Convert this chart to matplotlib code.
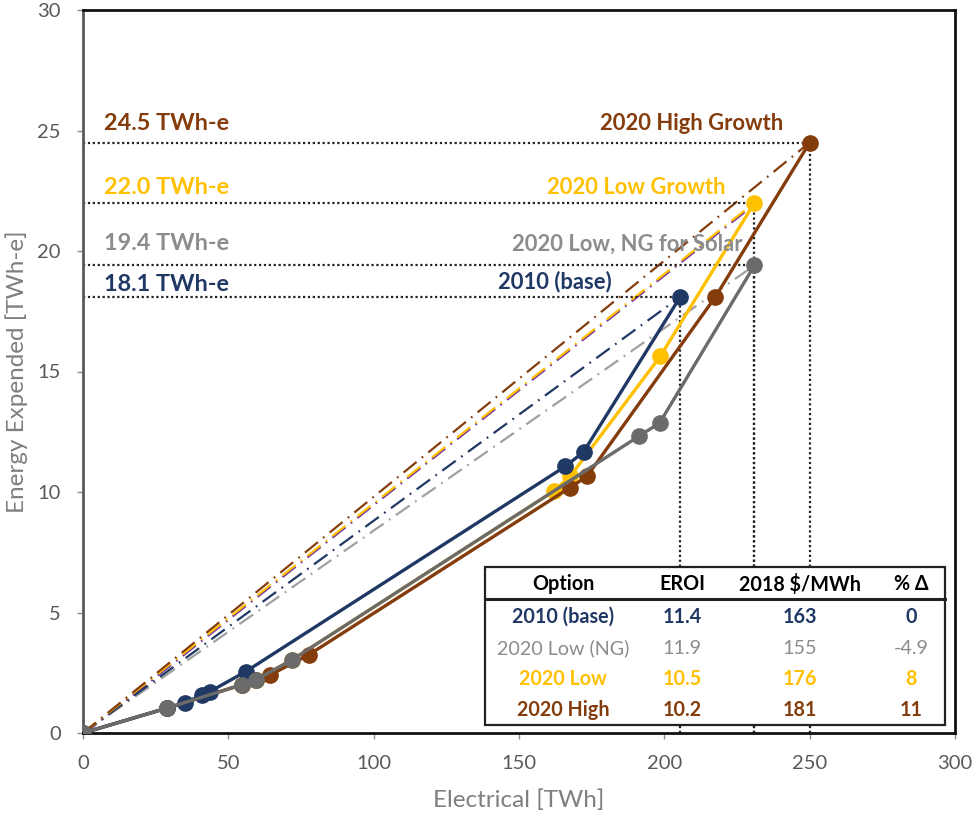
import matplotlib.pyplot as plt
import matplotlib.transforms as mtransforms
from matplotlib.patches import Rectangle
from matplotlib.lines import Line2D

plt.rcParams['font.family'] = ['Lato', 'DejaVu Sans']

# cumulative energy expended vs electricity generated, per scenario
base_x = [0, 28.8, 35.1, 40.9, 43.7, 56.0, 165.9, 172.2, 205.5]
base_y = [0, 1.03, 1.25, 1.58, 1.72, 2.55, 11.06, 11.66, 18.1]

ng_x = [0, 28.8, 54.6, 59.4, 71.8, 191.2, 198.4, 231.0]
ng_y = [0, 1.03, 2.0, 2.2, 3.03, 12.31, 12.87, 19.4]

low_x = [0, 28.8, 54.6, 59.4, 71.8, 161.9, 167.6, 198.6, 231.0]
low_y = [0, 1.03, 2.0, 2.2, 3.03, 10.03, 10.65, 15.63, 22.0]

high_x = [0, 28.8, 54.6, 59.4, 64.4, 77.6, 167.4, 173.4, 217.6, 250.0]
high_y = [0, 1.03, 2.0, 2.2, 2.41, 3.24, 10.17, 10.65, 18.1, 24.5]

# table of results
tbl_header = ['Option', 'EROI', '2018 $/MWh', '% Δ']
tbl_option = ['2010 (base)', '2020 Low (NG)', '2020 Low', '2020 High']
tbl_eroi = ['11.4', '11.9', '10.5', '10.2']
tbl_cost = ['163', '155', '176', '181']
tbl_delta = ['0', '-4.9', '8', '11']

NAVY = '#1F3864'
GRAY = '#6B6B6B'
GRAYTXT = '#8C8C8C'
GOLD = '#FFC000'
BROWN = '#843C0C'
PURPLE = '#7030A0'

W, H = 972, 817
fig = plt.figure(figsize=(W / 100, H / 100), dpi=100)
ax = fig.add_axes([83 / W, 1 - 733 / H, 872 / W, 723 / H])


def fpx(x, y):
    return x / W, 1 - y / H


# dash-dot straight lines from the origin to each end point
dd = (0, (7.5, 3, 0.8, 3))
shift = mtransforms.offset_copy(ax.transData, fig=fig, x=0, y=-1.6, units='dots')
ax.plot([0, low_x[-1]], [0, low_y[-1]], color=PURPLE, lw=1.6, ls=dd, transform=shift, zorder=2)
ax.plot([0, ng_x[-1]], [0, ng_y[-1]], color='#A0A0A0', lw=1.6, ls=dd, zorder=2)
ax.plot([0, base_x[-1]], [0, base_y[-1]], color=NAVY, lw=1.6, ls=dd, zorder=2)
ax.plot([0, low_x[-1]], [0, low_y[-1]], color=GOLD, lw=1.6, ls=dd, zorder=2)
ax.plot([0, high_x[-1]], [0, high_y[-1]], color=BROWN, lw=1.6, ls=dd, zorder=2)

# dotted guides to the end points
dot = (0, (1, 1.2))
for xs, ys in [(base_x, base_y), (ng_x, ng_y), (low_x, low_y), (high_x, high_y)]:
    ax.plot([0, xs[-1]], [ys[-1], ys[-1]], color='#222222', lw=1.6, ls=dot, zorder=2)
    ax.plot([xs[-1], xs[-1]], [0, ys[-1]], color='#222222', lw=1.6, ls=dot, zorder=2)

# scenario curves
for xs, ys, c in [(low_x, low_y, GOLD), (high_x, high_y, BROWN),
                  (base_x, base_y, NAVY), (ng_x, ng_y, GRAY)]:
    ax.plot(xs, ys, color=c, lw=2.4, marker='o', ms=11, mec=c, zorder=3)

ax.set_xlim(0, 300)
ax.set_ylim(0, 30)
ax.set_xticks(range(0, 301, 50))
ax.set_yticks(range(0, 31, 5))
ax.tick_params(colors='#8C8C8C', labelcolor='#595959', labelsize=14.5, length=4, width=1)
ax.tick_params(axis='x', pad=12)
ax.tick_params(axis='y', pad=12)
for s in ['top', 'right', 'bottom']:
    ax.spines[s].set_color('#111111')
    ax.spines[s].set_linewidth(2)
ax.spines['left'].set_color('#595959')
ax.spines['left'].set_linewidth(2)

ax.set_xlabel('Electrical [TWh]', fontsize=17.5, color='#7F7F7F', labelpad=12)
ax.set_ylabel('Energy Expended [TWh-e]', fontsize=17.5, color='#7F7F7F', labelpad=7)

# value labels on the left
for yv, txt, c in [(25.3, '24.5 TWh-e', BROWN), (22.65, '22.0 TWh-e', GOLD),
                   (20.3, '19.4 TWh-e', GRAYTXT), (18.6, '18.1 TWh-e', NAVY)]:
    ax.text(7.2, yv, txt, color=c, fontsize=16.8, fontweight='bold', va='center', ha='left', zorder=4)

# scenario names near the end points
for xv, yv, txt, c in [(241, 25.3, '2020 High Growth', BROWN),
                       (221, 22.65, '2020 Low Growth', GOLD),
                       (227, 20.3, '2020 Low, NG for Solar', GRAYTXT),
                       (182, 18.75, '2010 (base)', NAVY)]:
    ax.text(xv, yv, txt, color=c, fontsize=15.8, fontweight='bold', va='center', ha='right', zorder=4)

# results table
x0, y0 = fpx(485, 725)
x1, y1 = fpx(945, 567)
fig.add_artist(Rectangle((x0, y0), x1 - x0, y1 - y0, transform=fig.transFigure,
                         facecolor='white', edgecolor='#222222', lw=1.6, zorder=5))
hx0, hy = fpx(485, 599)
fig.add_artist(Line2D([x0, x1], [hy, hy], transform=fig.transFigure, color='#222222', lw=2.2, zorder=6))

col_x = [563, 682, 800, 911]
for cx, txt in zip(col_x, tbl_header):
    fx, fy = fpx(cx, 584)
    fig.text(fx, fy, txt, ha='center', va='center', fontsize=14.2, fontweight='bold', color='black', zorder=7)

row_y = [617, 648, 679, 710]
row_c = [NAVY, GRAYTXT, GOLD, BROWN]
row_w = ['bold', 'normal', 'bold', 'bold']
for i in range(4):
    vals = [tbl_option[i], tbl_eroi[i], tbl_cost[i], tbl_delta[i]]
    for cx, txt in zip(col_x, vals):
        fx, fy = fpx(cx, row_y[i])
        fig.text(fx, fy, txt, ha='center', va='center', fontsize=14.2,
                 fontweight=row_w[i], color=row_c[i], zorder=7)

fig.savefig('out.png', dpi=100)
